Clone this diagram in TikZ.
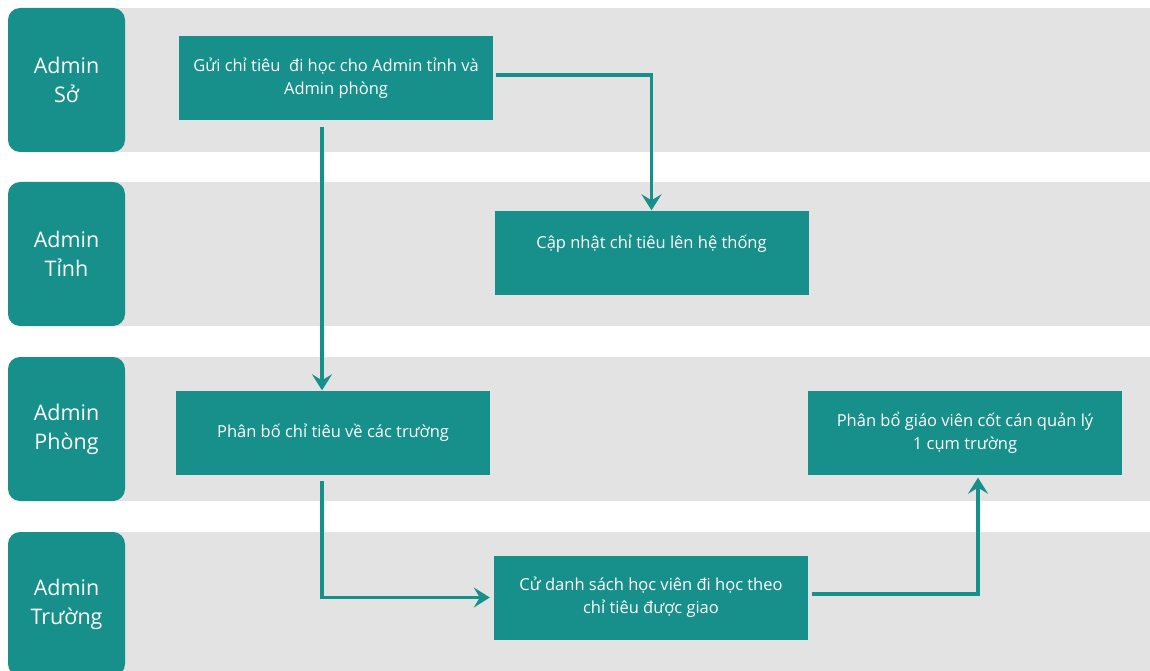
\documentclass[tikz,border=0pt]{standalone}
\usepackage{fontspec}
\setmainfont{Open Sans}
\usetikzlibrary{arrows.meta}
\definecolor{tealbox}{RGB}{23,143,138}
\definecolor{lanegray}{RGB}{227,227,227}
\tikzset{lane/.style = {fill=lanegray},
         actor/.style = {fill=tealbox, rounded corners=12pt, minimum width=117pt, minimum height=144pt,
                         text=white, align=center, font=\fontsize{21.5}{29}\selectfont},
         task/.style = {fill=tealbox, minimum width=314pt, minimum height=84pt, inner sep=0pt,
                        text=white, align=center, font=\fontsize{16.5}{23}\selectfont},
         flow/.style = {draw=tealbox, line width=3.5pt, -{Stealth[length=16pt, width=20pt, inset=6pt]}}}

\begin{document}
\begin{tikzpicture}[x=1pt, y=-1pt]
\useasboundingbox (0,0) rectangle (1150,671);
% lanes
\foreach \top in {8,182,357,532}
  \fill[lane] (60,\top) rectangle (1150,\top+144);
\node[actor] (so) at (66.5,80) {Admin\\Sở};
\node[actor] (tinh) at (66.5,254) {Admin\\Tỉnh};
\node[actor] (phong) at (66.5,429) {Admin\\Phòng};
\node[actor] (truong) at (66.5,604) {Admin\\Trường};
% tasks
\node[task] (send) at (336,78.5) {Gửi chỉ tiêu~ đi học cho Admin tỉnh và\\Admin phòng};
\node[task, text depth=21pt] (update) at (651.5,252.5) {Cập nhật chỉ tiêu lên hệ thống};
\node[task] (split) at (333,432.5) {Phân bố chỉ tiêu về các trường};
\node[task] (nominate) at (651,597.5) {Cử danh sách học viên đi học theo\\chỉ tiêu được giao};
\node[task] (assign) at (965,432.5) {Phân bổ giáo viên cốt cán quản lý\\1 cụm trường};
% flows
\draw[flow] ([xshift=3pt, yshift=3.5pt]send.east) -| (update.north);
\draw[flow] ([xshift=-14pt, yshift=-6pt]send.south) -- ([xshift=-14pt]send.south |- split.north);
\draw[flow] ([xshift=-11pt, yshift=-6pt]split.south) |- ([xshift=-4pt]nominate.west);
\draw[flow] ([xshift=4pt, yshift=3.5pt]nominate.east) -| ([xshift=13pt, yshift=-3pt]assign.south);
\end{tikzpicture}
\end{document}
